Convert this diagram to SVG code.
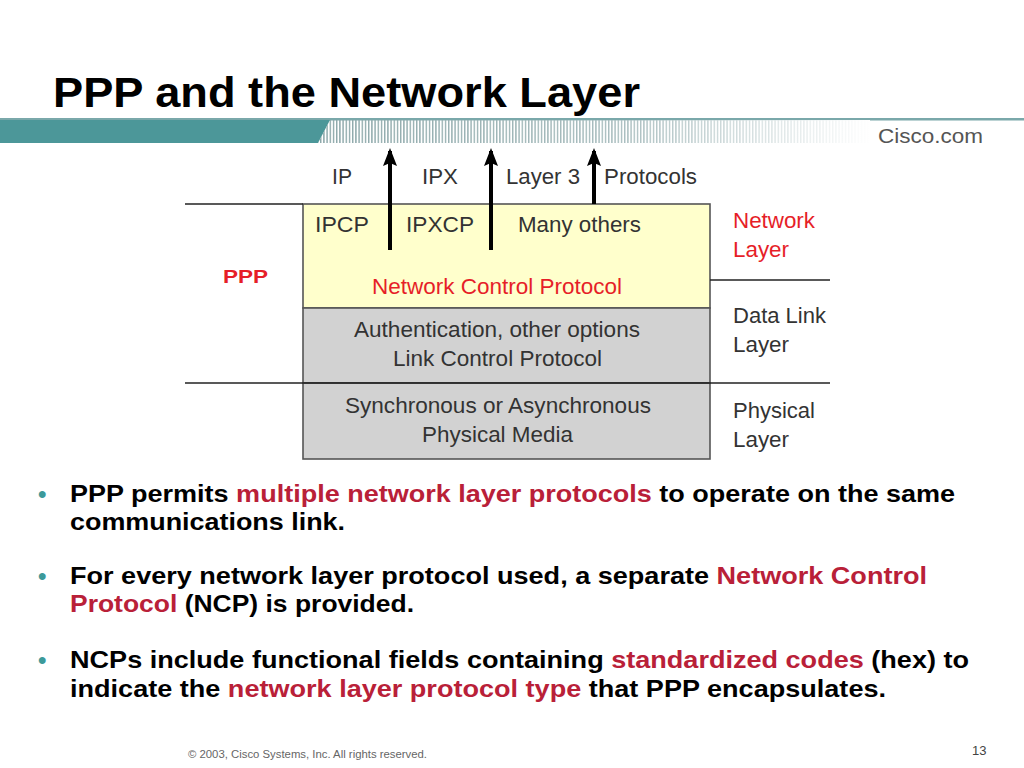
<svg xmlns="http://www.w3.org/2000/svg" width="1024" height="768" viewBox="0 0 1024 768">
<defs>
<style>
.t{font-family:"Liberation Sans",Arial,sans-serif;fill:#333;font-size:22px}
.red{fill:#e61e28}
.b{font-family:"Liberation Sans",Arial,sans-serif;font-weight:bold;font-size:24px;fill:#000}
.hl{fill:#b92038}
.dot{fill:#3c9a9a}
.ln{stroke:#222;stroke-width:1.6;fill:none}
.box{stroke:#555;stroke-width:1.6}
.arr{stroke:#000;stroke-width:4;fill:none}
</style>
<pattern id="stripes" x="0" y="0" width="3.2" height="10" patternUnits="userSpaceOnUse">
<rect x="0" y="0" width="1.4" height="10" fill="#8aa6a8"/>
</pattern>
<linearGradient id="fade" x1="0" y1="0" x2="1" y2="0">
<stop offset="0" stop-color="#fff" stop-opacity="0"/>
<stop offset="0.55" stop-color="#fff" stop-opacity="0.25"/>
<stop offset="1" stop-color="#fff" stop-opacity="1"/>
</linearGradient>
<marker id="ah" markerWidth="18" markerHeight="14" refX="15" refY="7" orient="auto" markerUnits="userSpaceOnUse" viewBox="0 0 18 14">
<path d="M18,7 L0,0 L3,7 L0,14 Z" fill="#000"/>
</marker>
</defs>
<rect width="1024" height="768" fill="#fff"/>

<g id="header">
<text x="53" y="107" font-family="Liberation Sans, Arial, sans-serif" font-weight="bold" font-size="43" fill="#000" textLength="587" lengthAdjust="spacingAndGlyphs">PPP and the Network Layer</text>
<rect x="0" y="118" width="1024" height="2.5" fill="#7aa8aa"/>
<polygon points="0,120 330,120 318,143 0,143" fill="#4c9799"/>
<polygon points="330,120 870,120 870,143 318,143" fill="url(#stripes)"/>
<polygon points="330,120 870,120 870,143 318,143" fill="url(#fade)"/>
<text x="878" y="143" font-family="Liberation Sans, Arial, sans-serif" font-size="21" fill="#555" textLength="105" lengthAdjust="spacingAndGlyphs">Cisco.com</text>
</g>

<g id="ncp-box">
<rect x="303" y="204" width="407" height="104" fill="#ffffcc" class="box"/>
<text class="t" x="315" y="232" textLength="54" lengthAdjust="spacingAndGlyphs">IPCP</text>
<text class="t" x="406" y="232" textLength="68" lengthAdjust="spacingAndGlyphs">IPXCP</text>
<text class="t" x="518" y="232" textLength="123" lengthAdjust="spacingAndGlyphs">Many others</text>
<text class="t red" x="372" y="294" textLength="250" lengthAdjust="spacingAndGlyphs">Network Control Protocol</text>
</g>

<g id="lcp-box">
<rect x="303" y="308" width="407" height="75" fill="#d2d2d2" class="box"/>
<text class="t" x="354" y="337" textLength="286" lengthAdjust="spacingAndGlyphs">Authentication, other options</text>
<text class="t" x="393" y="366" textLength="209" lengthAdjust="spacingAndGlyphs">Link Control Protocol</text>
</g>

<g id="physical-box">
<rect x="303" y="383" width="407" height="76" fill="#d2d2d2" class="box"/>
<text class="t" x="345" y="413" textLength="306" lengthAdjust="spacingAndGlyphs">Synchronous or Asynchronous</text>
<text class="t" x="422" y="442" textLength="151" lengthAdjust="spacingAndGlyphs">Physical Media</text>
</g>

<g id="protocol-labels">
<text class="t" x="332" y="184" textLength="20" lengthAdjust="spacingAndGlyphs">IP</text>
<text class="t" x="422" y="184" textLength="36" lengthAdjust="spacingAndGlyphs">IPX</text>
<text class="t" x="506" y="184" textLength="74" lengthAdjust="spacingAndGlyphs">Layer 3</text>
<text class="t" x="604" y="184" textLength="93" lengthAdjust="spacingAndGlyphs">Protocols</text>
</g>

<g id="ppp-label">
<text x="223" y="283" font-family="Liberation Sans, Arial, sans-serif" font-weight="bold" font-size="19" fill="#e61e28" textLength="45" lengthAdjust="spacingAndGlyphs">PPP</text>
</g>

<g id="layer-labels">
<text class="t red" x="733" y="228" textLength="82" lengthAdjust="spacingAndGlyphs">Network</text>
<text class="t red" x="733" y="257" textLength="56" lengthAdjust="spacingAndGlyphs">Layer</text>
<text class="t" x="733" y="323" textLength="93" lengthAdjust="spacingAndGlyphs">Data Link</text>
<text class="t" x="733" y="352" textLength="56" lengthAdjust="spacingAndGlyphs">Layer</text>
<text class="t" x="733" y="418" textLength="82" lengthAdjust="spacingAndGlyphs">Physical</text>
<text class="t" x="733" y="447" textLength="56" lengthAdjust="spacingAndGlyphs">Layer</text>
</g>

<g id="connectors">
<line class="ln" x1="185" y1="204" x2="303" y2="204"/>
<line class="ln" x1="710" y1="280" x2="830" y2="280"/>
<line class="ln" x1="185" y1="383" x2="830" y2="383"/>
<line class="arr" x1="390" y1="250" x2="390" y2="151" marker-end="url(#ah)"/>
<line class="arr" x1="491" y1="250" x2="491" y2="151" marker-end="url(#ah)"/>
<line class="arr" x1="594" y1="204" x2="594" y2="151" marker-end="url(#ah)"/>
</g>

<g id="bullets">
<text class="b dot" x="38" y="502" font-size="20">•</text>
<text class="b" x="70" y="502" textLength="885" lengthAdjust="spacingAndGlyphs">PPP permits <tspan class="hl">multiple network layer protocols</tspan> to operate on the same</text>
<text class="b" x="70" y="530" textLength="275" lengthAdjust="spacingAndGlyphs">communications link.</text>
<text class="b dot" x="38" y="584" font-size="20">•</text>
<text class="b" x="70" y="584" textLength="857" lengthAdjust="spacingAndGlyphs">For every network layer protocol used, a separate <tspan class="hl">Network Control</tspan></text>
<text class="b" x="70" y="612" textLength="344" lengthAdjust="spacingAndGlyphs"><tspan class="hl">Protocol</tspan> (NCP) is provided.</text>
<text class="b dot" x="38" y="668" font-size="20">•</text>
<text class="b" x="70" y="668" textLength="899" lengthAdjust="spacingAndGlyphs">NCPs include functional fields containing <tspan class="hl">standardized codes</tspan> (hex) to</text>
<text class="b" x="70" y="697" textLength="816" lengthAdjust="spacingAndGlyphs">indicate the <tspan class="hl">network layer protocol type</tspan> that PPP encapsulates.</text>
</g>

<g id="footer">
<text x="188" y="758" font-family="Liberation Sans, Arial, sans-serif" font-size="10" fill="#666" textLength="239" lengthAdjust="spacingAndGlyphs">© 2003, Cisco Systems, Inc. All rights reserved.</text>
<text x="972" y="755" font-family="Liberation Sans, Arial, sans-serif" font-size="13" fill="#444">13</text>
</g>
</svg>
